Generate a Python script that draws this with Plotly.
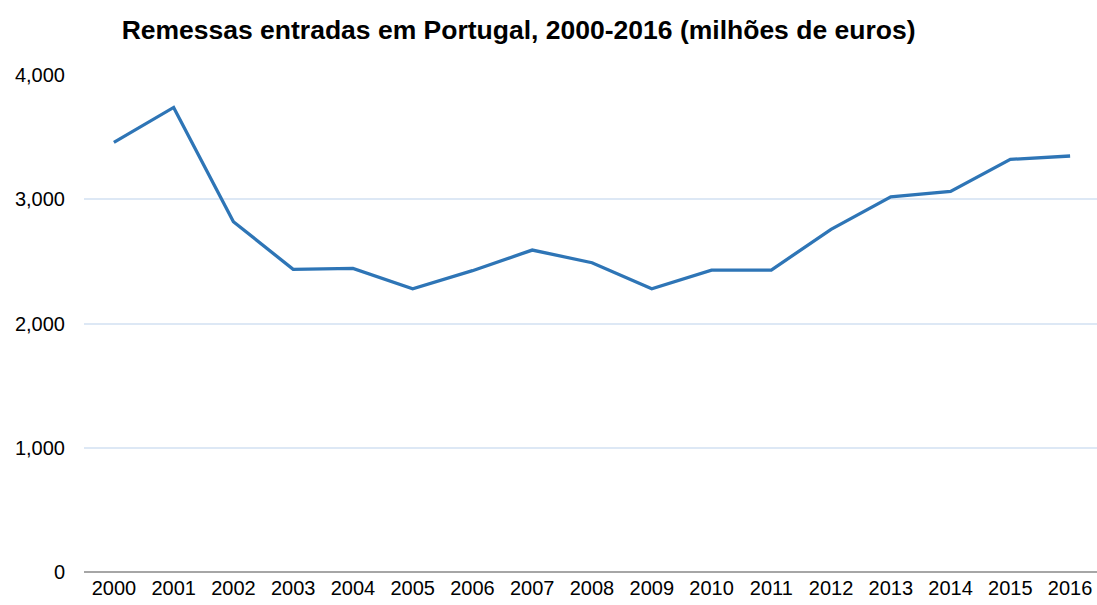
import plotly.graph_objects as go

years = list(range(2000, 2017))
remessas = [3458, 3739, 2819, 2436, 2444, 2280, 2425, 2591, 2489, 2280, 2430, 2430, 2758, 3020, 3063, 3321, 3348]
y_ticks = [0, 1000, 2000, 3000, 4000]
y_labels = ["0", "1,000", "2,000", "3,000", "4,000"]

fig = go.Figure()
fig.add_trace(go.Scatter(
    x=years, y=remessas, mode="lines",
    line=dict(color="#2e75b6", width=3.3),
    hoverinfo="x+y", showlegend=False,
))

W, H = 1097, 605
fig.update_layout(
    width=W, height=H,
    margin=dict(l=84, r=0, t=75, b=33, autoexpand=False),
    paper_bgcolor="white", plot_bgcolor="white",
    font=dict(family="Liberation Sans, Arial, sans-serif", color="#000000", size=20),
    title=dict(
        text="<b>Remessas entradas em Portugal, 2000-2016 (milhões de euros)</b>",
        x=0.429, xref="paper", xanchor="center",
        y=1 - 30 / H, yref="container", yanchor="middle",
        font=dict(size=26.5, color="#000000", family="Liberation Sans, Arial, sans-serif"),
    ),
    xaxis=dict(
        range=[1999.5, 2016.45], tickmode="array", tickvals=years,
        ticktext=[str(y) for y in years], showgrid=False, zeroline=False,
        showline=False, ticks="", ticklabelstandoff=2,
        tickfont=dict(size=20), automargin=False,
    ),
    yaxis=dict(
        range=[0, 4000], tickmode="array", tickvals=y_ticks, ticktext=y_labels,
        showgrid=True, gridcolor="#dde8f5", gridwidth=1.5,
        zeroline=True, zerolinecolor="#a6a6a6", zerolinewidth=2,
        showline=False, ticks="", ticklabelstandoff=18,
        tickfont=dict(size=20), automargin=False,
    ),
)

fig.write_html(
    "out.html",
    config={"displayModeBar": False},
    post_script="document.body.style.margin='0';document.body.style.overflow='hidden';",
)
